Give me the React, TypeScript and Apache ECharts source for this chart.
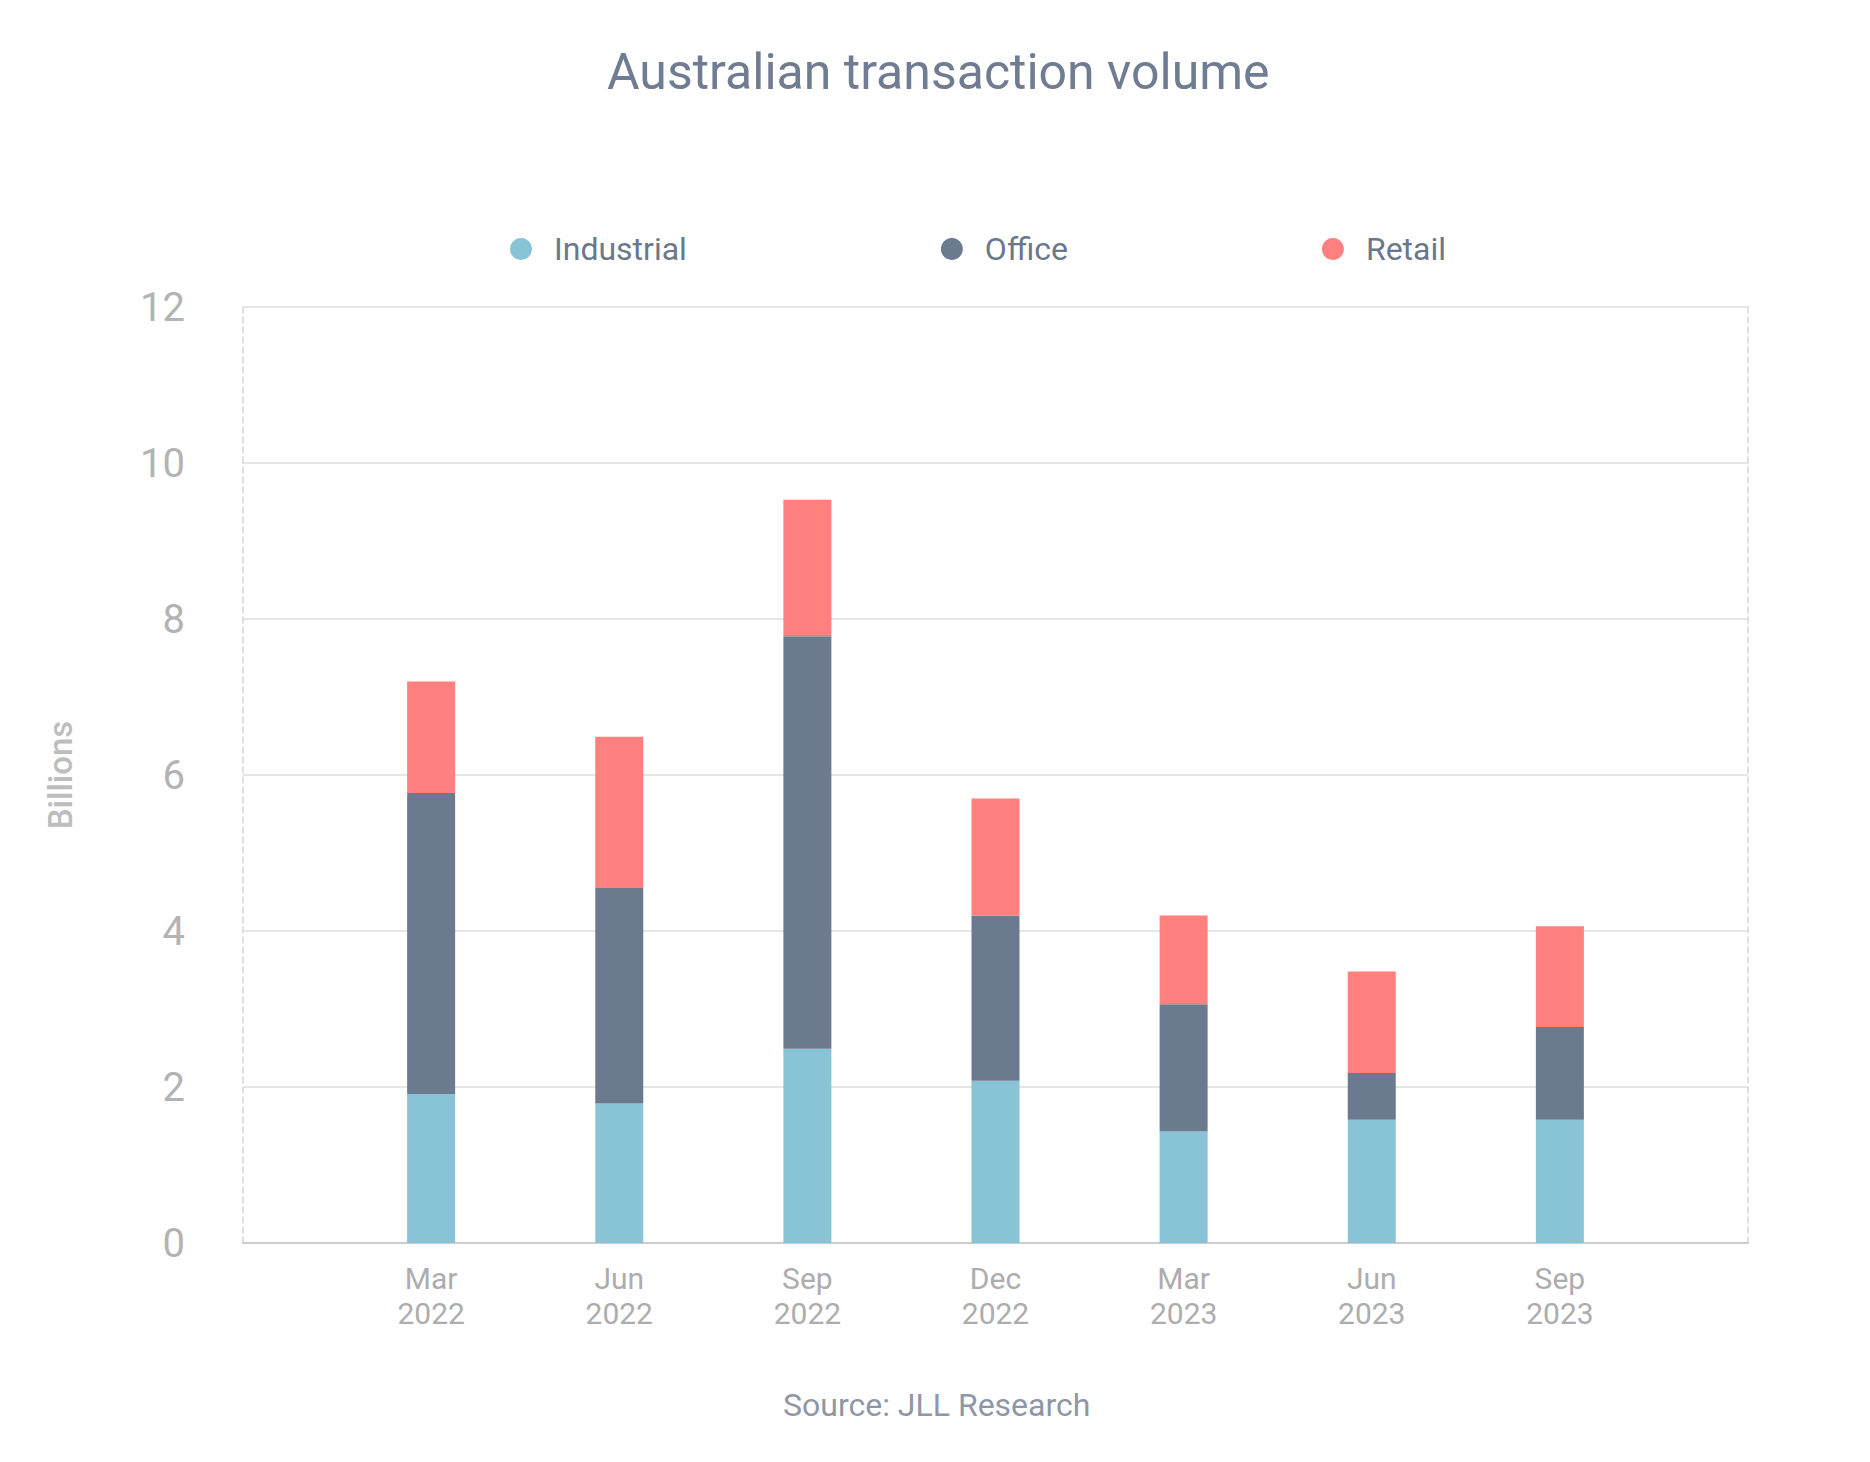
import React, { useEffect, useRef } from "react";
import * as echarts from "echarts";

const quarters = ["Mar\n2022", "Jun\n2022", "Sep\n2022", "Dec\n2022", "Mar\n2023", "Jun\n2023", "Sep\n2023"];
const industrial = [1.91, 1.79, 2.49, 2.08, 1.43, 1.58, 1.58];
const office = [3.86, 2.76, 5.29, 2.12, 1.63, 0.6, 1.19];
const retail = [1.43, 1.94, 1.75, 1.5, 1.14, 1.3, 1.29];
const seriesNames = ["Industrial", "Office", "Retail"];
const seriesColors = ["#89c4d6", "#6c7a8f", "#ff807e"];
const yTicks = { min: 0, max: 12, interval: 2 };

const FONT = "Roboto, 'Noto Sans', sans-serif";

export default function App() {
  const ref = useRef<HTMLDivElement>(null);

  useEffect(() => {
    if (!ref.current) return;
    const chart = echarts.init(ref.current, undefined, { renderer: "svg" });
    const axisData = ["", ...quarters, ""];
    const pad = (arr: number[]) => [null, ...arr, null];
    const values = [industrial, office, retail];

    chart.setOption({
      animation: false,
      backgroundColor: "#ffffff",
      textStyle: { fontFamily: FONT },
      title: [
        {
          text: "Australian transaction volume",
          left: 602,
          top: 42,
          textStyle: { fontFamily: FONT, fontSize: 50, lineHeight: 50, fontWeight: "normal", color: "#707c91" },
        },
        {
          text: "Source: JLL Research",
          left: 778,
          top: 1384,
          textStyle: { fontFamily: FONT, fontSize: 32, lineHeight: 32, fontWeight: "normal", color: "#8e97a7" },
        },
      ],
      legend: {
        left: 505,
        top: 228,
        itemWidth: 22,
        itemHeight: 22,
        itemGap: 254,
        icon: "circle",
        data: seriesNames,
        textStyle: { fontFamily: FONT, fontSize: 32, lineHeight: 32, color: "#6b778b", padding: [0, 0, 0, 17] },
      },
      grid: { left: 243, right: 122, top: 307, bottom: 219 },
      xAxis: {
        type: "category",
        data: axisData,
        boundaryGap: false,
        axisLine: { show: true, lineStyle: { color: "#cccccc", width: 2 } },
        axisTick: { show: false },
        splitLine: { show: false },
        axisLabel: { interval: 0, fontFamily: FONT, fontSize: 30, lineHeight: 35, color: "#adadad", margin: 18 },
      },
      yAxis: [
        {
          type: "value",
          min: yTicks.min,
          max: yTicks.max,
          interval: yTicks.interval,
          position: "left",
          name: "Billions",
          nameLocation: "middle",
          nameGap: 166,
          nameRotate: 90,
          nameTextStyle: { fontFamily: FONT, fontSize: 33, fontWeight: 500, color: "#bdbdbd" },
          axisLine: { show: true, lineStyle: { color: "#d6d6d6", width: 1.5, type: [6, 4] } },
          axisTick: { show: false },
          splitLine: { show: true, lineStyle: { color: "#e6e6e6", width: 2 } },
          axisLabel: { fontFamily: FONT, fontSize: 40, color: "#b3b3b3", margin: 58, padding: [5, 0, 0, 0] },
        },
        {
          type: "value",
          min: yTicks.min,
          max: yTicks.max,
          interval: yTicks.interval,
          position: "right",
          axisLine: { show: true, lineStyle: { color: "#d6d6d6", width: 1.5, type: [6, 4] } },
          axisTick: { show: false },
          splitLine: { show: false },
          axisLabel: { show: false },
        },
      ],
      series: seriesNames.map((name, i) => ({
        name,
        type: "bar",
        stack: "total",
        barWidth: 48,
        yAxisIndex: 0,
        itemStyle: { color: seriesColors[i] },
        emphasis: { disabled: true },
        data: pad(values[i]),
      })),
    });

    return () => chart.dispose();
  }, []);

  return (
    <div
      ref={ref}
      style={{ position: "fixed", left: 0, top: 0, width: 1870, height: 1462 }}
    />
  );
}
